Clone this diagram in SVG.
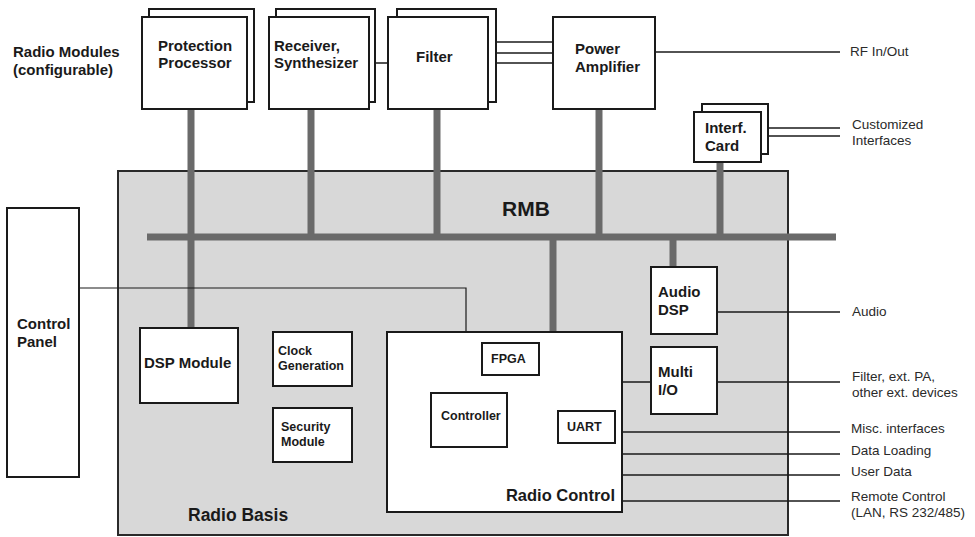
<svg xmlns="http://www.w3.org/2000/svg" width="975" height="537" viewBox="0 0 975 537">
  <style>
    .box { fill: #ffffff; stroke: #1a1a1a; stroke-width: 2; }
    .basis { fill: #d8d8d8; stroke: #2a2a2a; stroke-width: 2; }
    .bus { stroke: #6a6a6a; stroke-width: 7; fill: none; }
    .sig { stroke: #1a1a1a; stroke-width: 1.5; fill: none; }
    .b15 { font-family: "Liberation Sans", Arial, sans-serif; font-weight: bold; font-size: 15px; fill: #1a1a1a; }
    .b13 { font-family: "Liberation Sans", Arial, sans-serif; font-weight: bold; font-size: 12.5px; fill: #1a1a1a; }
    .lbl { font-family: "Liberation Sans", Arial, sans-serif; font-size: 13.5px; fill: #2a2a2a; }
  </style>

  <!-- Radio basis enclosure -->
  <g id="radio-basis">
    <rect class="basis" x="118" y="171" width="670" height="364"/>
    <text class="b15" x="188" y="521" style="font-size:17.5px">Radio Basis</text>
  </g>

  <text class="b15" x="13" y="57">Radio Modules</text>
  <text class="b15" x="13" y="75">(configurable)</text>

  <!-- Bus and signal connectors -->
  <g id="connectors">
    <line class="bus" x1="147" y1="237" x2="836" y2="237"/>
    <line class="bus" x1="191" y1="109" x2="191" y2="329"/>
    <line class="bus" x1="311" y1="109" x2="311" y2="237"/>
    <line class="bus" x1="437" y1="109" x2="437" y2="237"/>
    <line class="bus" x1="599" y1="109" x2="599" y2="237"/>
    <line class="bus" x1="720" y1="162" x2="720" y2="237"/>
    <line class="bus" x1="553" y1="237" x2="553" y2="332"/>
    <line class="bus" x1="673" y1="237" x2="673" y2="267"/>

    <!-- module interconnects -->
    <line class="sig" x1="375" y1="63" x2="388" y2="63"/>
    <line class="sig" x1="496" y1="42" x2="553" y2="42"/>
    <line class="sig" x1="496" y1="53" x2="553" y2="53"/>
    <line class="sig" x1="496" y1="63" x2="553" y2="63"/>
    <line class="sig" x1="655" y1="52" x2="840" y2="52"/>
    <line class="sig" x1="768" y1="128" x2="840" y2="128"/>
    <line class="sig" x1="768" y1="136" x2="840" y2="136"/>

    <!-- control panel link -->
    <polyline class="sig" points="79,288 466,288 466,332" style="stroke-width:1.2"/>

    <!-- external I/O -->
    <line class="sig" x1="717" y1="312" x2="840" y2="312"/>
    <line class="sig" x1="622" y1="382" x2="651" y2="382"/>
    <line class="sig" x1="717" y1="382" x2="840" y2="382"/>
    <line class="sig" x1="622" y1="432" x2="840" y2="432"/>
    <line class="sig" x1="622" y1="454" x2="840" y2="454"/>
    <line class="sig" x1="622" y1="475" x2="840" y2="475"/>
    <line class="sig" x1="622" y1="501" x2="840" y2="501"/>
  </g>

  <text class="b15" x="502" y="216" style="font-size:21px">RMB</text>

  <g id="protection-processor">
    <rect class="box" x="149" y="9" width="105" height="93"/>
    <rect class="box" x="142" y="17" width="105" height="92"/>
    <text class="b15" x="195" y="51" text-anchor="middle">Protection</text>
    <text class="b15" x="195" y="68" text-anchor="middle">Processor</text>
  </g>

  <g id="receiver-synthesizer">
    <rect class="box" x="276" y="9" width="99" height="93"/>
    <rect class="box" x="269" y="17" width="100" height="92"/>
    <text class="b15" x="274" y="51">Receiver,</text>
    <text class="b15" x="274" y="68">Synthesizer</text>
  </g>

  <g id="filter">
    <rect class="box" x="397" y="9" width="99" height="93"/>
    <rect class="box" x="388" y="17" width="100" height="92"/>
    <text class="b15" x="416" y="62">Filter</text>
  </g>

  <g id="power-amplifier">
    <rect class="box" x="553" y="17" width="102" height="92"/>
    <text class="b15" x="575" y="54">Power</text>
    <text class="b15" x="575" y="72">Amplifier</text>
  </g>

  <g id="interface-card">
    <rect class="box" x="702" y="104" width="66" height="50"/>
    <rect class="box" x="694" y="112" width="67" height="50"/>
    <text class="b15" x="705" y="133">Interf.</text>
    <text class="b15" x="705" y="151">Card</text>
  </g>

  <g id="control-panel">
    <rect class="box" x="7" y="208" width="72" height="269"/>
    <text class="b15" x="17" y="329">Control</text>
    <text class="b15" x="17" y="347">Panel</text>
  </g>

  <g id="dsp-module">
    <rect class="box" x="140" y="328" width="98" height="75"/>
    <text class="b15" x="144" y="368">DSP Module</text>
  </g>

  <g id="clock-generation">
    <rect class="box" x="273" y="332" width="79" height="54"/>
    <text class="b13" x="278" y="355">Clock</text>
    <text class="b13" x="278" y="370">Generation</text>
  </g>

  <g id="security-module">
    <rect class="box" x="273" y="408" width="79" height="54"/>
    <text class="b13" x="281" y="431">Security</text>
    <text class="b13" x="281" y="446">Module</text>
  </g>

  <g id="radio-control">
    <rect class="box" x="387" y="332" width="235" height="180"/>
    <text class="b15" x="615" y="501" text-anchor="end" style="font-size:16.5px">Radio Control</text>
  </g>

  <g id="fpga">
    <rect class="box" x="482" y="343" width="57" height="32"/>
    <text class="b13" x="491" y="363">FPGA</text>
  </g>

  <g id="controller">
    <rect class="box" x="431" y="393" width="76" height="54"/>
    <text class="b13" x="441" y="420">Controller</text>
  </g>

  <g id="uart">
    <rect class="box" x="558" y="411" width="57" height="32"/>
    <text class="b13" x="567" y="431">UART</text>
  </g>

  <g id="audio-dsp">
    <rect class="box" x="651" y="267" width="66" height="67"/>
    <text class="b15" x="658" y="297">Audio</text>
    <text class="b15" x="658" y="315">DSP</text>
  </g>

  <g id="multi-io">
    <rect class="box" x="651" y="347" width="66" height="67"/>
    <text class="b15" x="658" y="377">Multi</text>
    <text class="b15" x="658" y="395">I/O</text>
  </g>

  <!-- external interface labels -->
  <g id="labels">
    <text class="lbl" x="850" y="56">RF In/Out</text>
    <text class="lbl" x="852" y="129">Customized</text>
    <text class="lbl" x="852" y="145">Interfaces</text>
    <text class="lbl" x="852" y="316">Audio</text>
    <text class="lbl" x="852" y="381">Filter, ext. PA,</text>
    <text class="lbl" x="852" y="397">other ext. devices</text>
    <text class="lbl" x="851" y="433">Misc. interfaces</text>
    <text class="lbl" x="851" y="455">Data Loading</text>
    <text class="lbl" x="851" y="476">User Data</text>
    <text class="lbl" x="851" y="501">Remote Control</text>
    <text class="lbl" x="851" y="517">(LAN, RS 232/485)</text>
  </g>
</svg>
